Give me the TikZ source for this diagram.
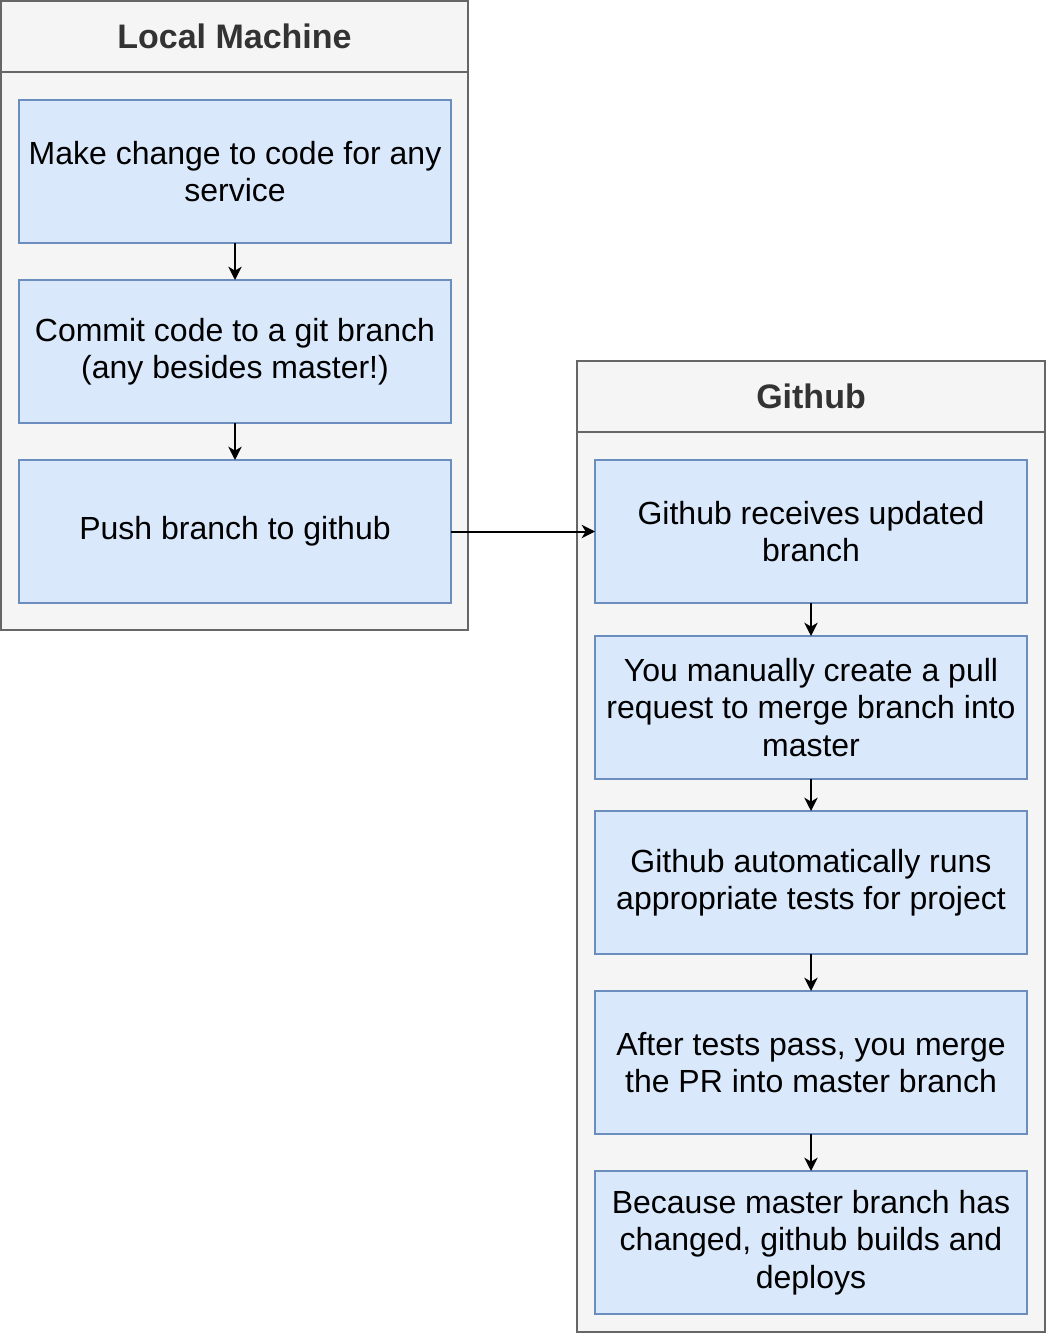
\documentclass[tikz,border=0pt]{standalone}
\usepackage{fontspec}
\setmainfont{Liberation Sans}
\usetikzlibrary{arrows.meta,positioning}
\definecolor{stepfill}{HTML}{DAE8FC}
\definecolor{stepline}{HTML}{6C8EBF}
\definecolor{lanefill}{HTML}{F5F5F5}
\definecolor{laneline}{HTML}{666666}
\definecolor{lanetext}{HTML}{333333}

\begin{document}
\begin{tikzpicture}[x=0.75pt,y=-0.75pt,->,>={Stealth[length=10pt,width=10pt,inset=3pt]},
                    line width=1.5pt,node distance=27.75pt]
  \tikzstyle{lane}=[draw=laneline,fill=lanefill,rectangle,inner sep=0pt,outer sep=0pt]
  \tikzstyle{lanehead}=[lane,minimum height=53.25pt,text=lanetext,
                        font=\fontsize{25.5}{28}\selectfont\bfseries]
  \tikzstyle{stepbox}=[draw=stepline,fill=stepfill,rectangle,outer sep=0pt,
                       minimum width=324pt,minimum height=107.25pt,text width=318pt,
                       align=flush center,inner sep=0pt,font=\fontsize{24}{28}\selectfont]

  \useasboundingbox (0,0) rectangle (1046,1334);

  % containers
  \node[lane,anchor=north west,minimum width=350.25pt,minimum height=471.75pt] (local) at (1,1) {};
  \node[lanehead,anchor=north,minimum width=350.25pt] (localhead) at (local.north) {Local Machine};
  \node[lane,anchor=north west,minimum width=351pt,minimum height=728.25pt] (hub) at (577,361) {};
  \node[lanehead,anchor=north,minimum width=351pt] (hubhead) at (hub.north) {Github};

  % local steps
  \node[stepbox] (change) at (235,171.5) {Make change to code for any service};
  \node[stepbox] (commit) [below=of change] {Commit code to a git branch (any besides master!)};
  \node[stepbox] (push)   [below=of commit] {Push branch to github};

  % github steps
  \node[stepbox] (receive) at (811,531.5) {Github receives updated branch};
  \node[stepbox] (pr)      [below=24.75pt of receive] {You manually create a pull request to merge branch into master};
  \node[stepbox] (tests)   [below=24pt of pr] {Github automatically runs appropriate tests for project};
  \node[stepbox] (merge)   [below=27.75pt of tests] {After tests pass, you merge the PR into master branch};
  \node[stepbox] (deploy)  [below=27.75pt of merge] {Because master branch has changed, github builds and deploys};

  \path (change)  edge (commit)
        (commit)  edge (push)
        (push)    edge (receive)
        (receive) edge (pr)
        (pr)      edge (tests)
        (tests)   edge (merge)
        (merge)   edge (deploy);
\end{tikzpicture}
\end{document}
